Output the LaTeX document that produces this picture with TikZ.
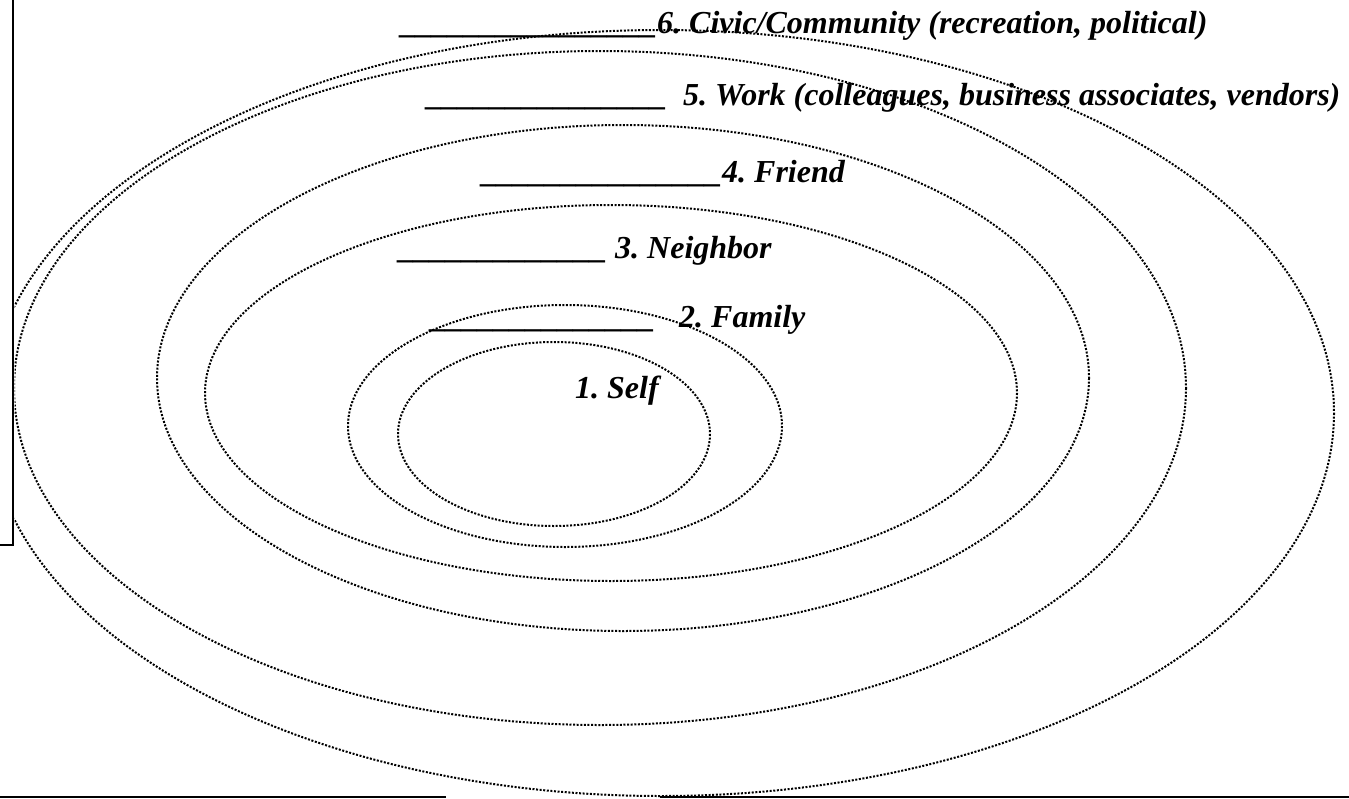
\documentclass[tikz,border=0pt]{standalone}
\usepackage{fontspec}
\setmainfont{Liberation Serif}
\frenchspacing
\begin{document}
\begin{tikzpicture}[x=1pt,y=-1pt,
  ring/.style={line width=2pt, dash pattern=on 2pt off 1.6pt},
  frame/.style={line width=2.6pt},
  lbl/.style={anchor=base west, inner sep=0pt, font=\fontsize{32}{38}\selectfont\bfseries\itshape}]
\useasboundingbox (0,0) rectangle (1349,798);
\begin{scope}
\clip (14.5,-5) rectangle (1349,800);
\draw[ring] (661,413) ellipse [x radius=673, y radius=383];
\draw[ring] (600,388) ellipse [x radius=586, y radius=337];
\draw[ring] (623,378) ellipse [x radius=466, y radius=253];
\draw[ring] (611,393) ellipse [x radius=406, y radius=188];
\draw[ring] (565,426) ellipse [x radius=217, y radius=121];
\draw[ring] (554,434) ellipse [x radius=156, y radius=92];
\end{scope}
\coordinate (ft) at (13,0);
\coordinate (fb) at (13,545);
\coordinate (fl) at (0,545);
\draw[frame] (ft) -- (fb) -- (fl);
\coordinate (b1) at (0,797);
\coordinate (b2) at (446,797);
\coordinate (b3) at (660,797);
\coordinate (b4) at (1349,797);
\draw[line width=2pt] (b1) -- (b2);
\draw[line width=2pt] (b3) -- (b4);
\node[lbl] (civic) at (401,33) {\_\_\_\_\_\_\_\_\_\_\_\_\_\_\_\_6. Civic/Community (recreation, political)};
\node[lbl] (work) at (427,105) {\_\_\_\_\_\_\_\_\_\_\_\_\_\_\_\ \ 5. Work (colleagues, business associates, vendors)};
\node[lbl] (friend) at (482,182) {\_\_\_\_\_\_\_\_\_\_\_\_\_\_\_4. Friend};
\node[lbl] (neighbor) at (399,258) {\_\_\_\_\_\_\_\_\_\_\_\_\_\ 3. Neighbor};
\node[lbl] (family) at (431,327) {\_\_\_\_\_\_\_\_\_\_\_\_\_\_\ \ \ 2. Family};
\node[lbl] (self) at (575,398) {1. Self};
\end{tikzpicture}
\end{document}
